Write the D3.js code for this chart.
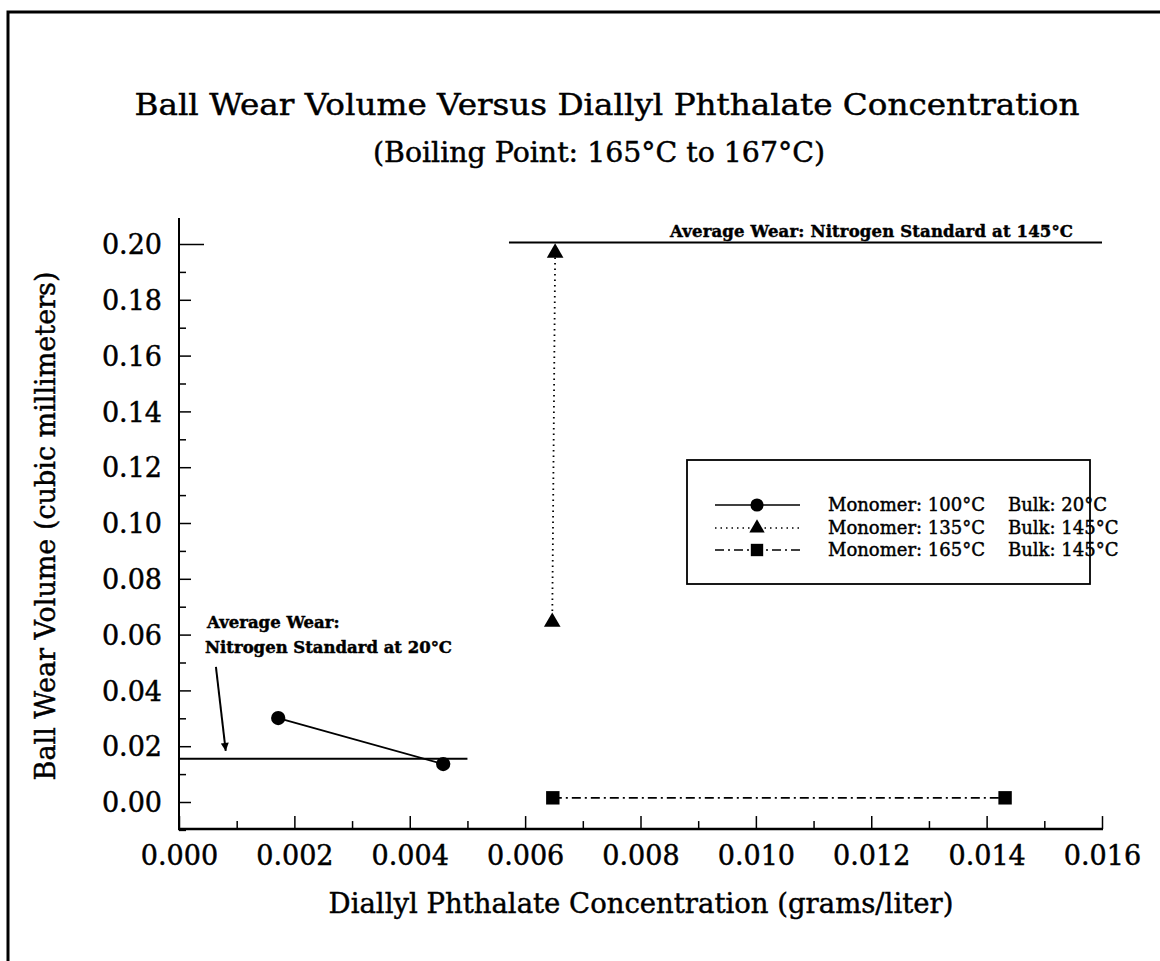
<!DOCTYPE html>
<html>
<head>
<meta charset="utf-8">
<script src="https://cdn.jsdelivr.net/npm/d3@7"></script>
<style>
  body { margin: 0; background: #fff; }
  text { font-family: "DejaVu Serif", "Liberation Serif", serif; fill: #000; stroke: #000; stroke-width: 0.45px; }
</style>
</head>
<body>
<script>
// data
var xTicks = [0, 0.002, 0.004, 0.006, 0.008, 0.010, 0.012, 0.014, 0.016];
var yTicks = [0, 0.02, 0.04, 0.06, 0.08, 0.10, 0.12, 0.14, 0.16, 0.18, 0.20];

var seriesNames = ["Monomer: 100\u00B0C", "Monomer: 135\u00B0C", "Monomer: 165\u00B0C"];
var bulkNames = ["Bulk: 20\u00B0C", "Bulk: 145\u00B0C", "Bulk: 145\u00B0C"];

var s1x = [0.00172, 0.00458];
var s1y = [0.0301, 0.0136];
var s2x = [0.00647, 0.00652];
var s2y = [0.0645, 0.1968];
var s3x = [0.00648, 0.01432];
var s3y = [0.0015, 0.0015];

// reference lines: nitrogen standards
var refX20 = [0, 0.005];
var refY20 = 0.0155;
var refX145 = [0.00572, 0.016];
var refY145 = 0.2005;

// arrow for the 20C note (start, tip)
var arrowX = [0.00064, 0.00081];
var arrowY = [0.0484, 0.0183];

var width = 1160, height = 961;

var svg = d3.select("body").append("svg")
            .attr("width", width)
            .attr("height", height);

// scan frame (top + left edges only)
svg.append("path")
   .attr("d", "M8,961 L8,12 L1160,12")
   .attr("fill", "none")
   .attr("stroke", "#000")
   .attr("stroke-width", 3);

var x = d3.scaleLinear().domain([0, 0.016]).range([179, 1102]);
var y = d3.scaleLinear().domain([0, 0.20]).range([802, 244]);

//-----------------------------------------------------------------------------------
// titles
//-----------------------------------------------------------------------------------
svg.append("text")
   .attr("x", 607).attr("y", 115)
   .attr("text-anchor", "middle")
   .attr("textLength", 945)
   .attr("lengthAdjust", "spacingAndGlyphs")
   .style("font-size", "30px")
   .text("Ball Wear Volume Versus Diallyl Phthalate Concentration");

svg.append("text")
   .attr("x", 599).attr("y", 162)
   .attr("text-anchor", "middle")
   .attr("textLength", 452)
   .attr("lengthAdjust", "spacingAndGlyphs")
   .style("font-size", "27px")
   .text("(Boiling Point: 165\u00B0C to 167\u00B0C)");

//-----------------------------------------------------------------------------------
// axes
//-----------------------------------------------------------------------------------
var axisY = y(-0.0097);

svg.append("line")
   .attr("x1", x(0)).attr("x2", x(0))
   .attr("y1", y(0.2093)).attr("y2", axisY)
   .attr("stroke", "#000").attr("stroke-width", 2);

svg.append("line")
   .attr("x1", x(0) - 1).attr("x2", x(0.016) + 1)
   .attr("y1", axisY).attr("y2", axisY)
   .attr("stroke", "#000").attr("stroke-width", 2.5);

var yAxis = svg.append("g")
   .attr("transform", "translate(" + x(0) + ",0)")
   .call(d3.axisLeft(y).tickValues(yTicks).tickSize(-12).tickPadding(17)
           .tickFormat(d3.format(".2f")));
yAxis.select(".domain").remove();
yAxis.selectAll("text").style("font-size", "27px").attr("dy", "0.36em");
yAxis.selectAll("line").attr("stroke-width", 1.5)
     .filter(function(d) { return d === 0.20; }).attr("x2", 25);

var yMinor = svg.append("g")
   .attr("transform", "translate(" + x(0) + ",0)")
   .call(d3.axisLeft(y).tickValues(d3.range(-0.01, 0.2, 0.02)).tickSize(-7).tickFormat(""));
yMinor.select(".domain").remove();
yMinor.selectAll("line").attr("stroke-width", 1.5);

var xAxis = svg.append("g")
   .attr("transform", "translate(0," + axisY + ")")
   .call(d3.axisBottom(x).tickValues(xTicks).tickSize(-13).tickPadding(16)
           .tickFormat(d3.format(".3f")));
xAxis.select(".domain").remove();
xAxis.selectAll("text").style("font-size", "27px").attr("dy", "0.75em");
xAxis.selectAll("line").attr("stroke-width", 1.5);

var xMinor = svg.append("g")
   .attr("transform", "translate(0," + axisY + ")")
   .call(d3.axisBottom(x).tickValues(d3.range(0.001, 0.016, 0.002)).tickSize(-8).tickFormat(""));
xMinor.select(".domain").remove();
xMinor.selectAll("line").attr("stroke-width", 1.5);

svg.append("text")
   .attr("transform", "translate(55,526) rotate(-90)")
   .attr("text-anchor", "middle")
   .style("font-size", "27px")
   .text("Ball Wear Volume (cubic millimeters)");

svg.append("text")
   .attr("x", 641).attr("y", 913)
   .attr("text-anchor", "middle")
   .style("font-size", "27.5px")
   .text("Diallyl Phthalate Concentration (grams/liter)");

//-----------------------------------------------------------------------------------
// reference lines and notes
//-----------------------------------------------------------------------------------
svg.append("line")
   .attr("x1", x(refX20[0])).attr("x2", x(refX20[1]))
   .attr("y1", y(refY20)).attr("y2", y(refY20))
   .attr("stroke", "#000").attr("stroke-width", 2);

svg.append("line")
   .attr("x1", x(refX145[0])).attr("x2", x(refX145[1]))
   .attr("y1", y(refY145)).attr("y2", y(refY145))
   .attr("stroke", "#000").attr("stroke-width", 2);

svg.append("text")
   .attr("x", 670).attr("y", 237)
   .style("font-size", "16.5px").style("font-weight", "bold")
   .attr("textLength", 403)
   .text("Average Wear: Nitrogen Standard at 145\u00B0C");

svg.append("text")
   .attr("x", 207).attr("y", 628)
   .style("font-size", "16.5px").style("font-weight", "bold")
   .text("Average Wear:");
svg.append("text")
   .attr("x", 205).attr("y", 653)
   .style("font-size", "16.5px").style("font-weight", "bold")
   .attr("textLength", 247)
   .text("Nitrogen Standard at 20\u00B0C");

svg.append("defs").append("marker")
   .attr("id", "arrowhead")
   .attr("viewBox", "0 0 10 10")
   .attr("refX", 10).attr("refY", 5)
   .attr("markerWidth", 14).attr("markerHeight", 8)
   .attr("markerUnits", "userSpaceOnUse")
   .attr("orient", "auto")
   .append("path").attr("d", "M0,0 L10,5 L0,10 z").attr("fill", "#000");

svg.append("line")
   .attr("x1", x(arrowX[0])).attr("y1", y(arrowY[0]))
   .attr("x2", x(arrowX[1])).attr("y2", y(arrowY[1]))
   .attr("stroke", "#000").attr("stroke-width", 2)
   .attr("marker-end", "url(#arrowhead)");

//-----------------------------------------------------------------------------------
// series
//-----------------------------------------------------------------------------------
var line = d3.line().x(function(d) { return x(d[0]); }).y(function(d) { return y(d[1]); });

var series = [
  { xs: s1x, ys: s1y, dash: null, sym: d3.symbolCircle, size: 160 },
  { xs: s2x, ys: s2y, dash: "1.5,4", sym: d3.symbolTriangle, size: 120 },
  { xs: s3x, ys: s3y, dash: "9,4,2,4", sym: d3.symbolSquare, size: 180 }
];

series.forEach(function(s) {
  var pts = d3.zip(s.xs, s.ys);
  svg.append("path")
     .attr("d", line(pts))
     .attr("fill", "none")
     .attr("stroke", "#000")
     .attr("stroke-width", 1.8)
     .attr("stroke-dasharray", s.dash);
  svg.selectAll(null).data(pts).enter().append("path")
     .attr("transform", function(d) { return "translate(" + x(d[0]) + "," + y(d[1]) + ")"; })
     .attr("d", d3.symbol().type(s.sym).size(s.size))
     .attr("fill", "#000");
});

//-----------------------------------------------------------------------------------
// legend
//-----------------------------------------------------------------------------------
svg.append("rect")
   .attr("x", 687).attr("y", 460)
   .attr("width", 403).attr("height", 124)
   .attr("fill", "none")
   .attr("stroke", "#000")
   .attr("stroke-width", 1.8);

var legY = [505, 528, 550];
series.forEach(function(s, i) {
  var g = svg.append("g").attr("transform", "translate(0," + legY[i] + ")");
  g.append("line")
   .attr("x1", 715).attr("x2", 800)
   .attr("stroke", "#000").attr("stroke-width", 1.6)
   .attr("stroke-dasharray", s.dash);
  g.append("path")
   .attr("transform", "translate(757,0)")
   .attr("d", d3.symbol().type(s.sym).size(s.size * 0.85))
   .attr("fill", "#000");
  g.append("text").attr("x", 828).attr("y", 6)
   .style("font-size", "18px").text(seriesNames[i]);
  g.append("text").attr("x", 1008).attr("y", 6)
   .style("font-size", "18px").text(bulkNames[i]);
});
</script>
</body>
</html>
